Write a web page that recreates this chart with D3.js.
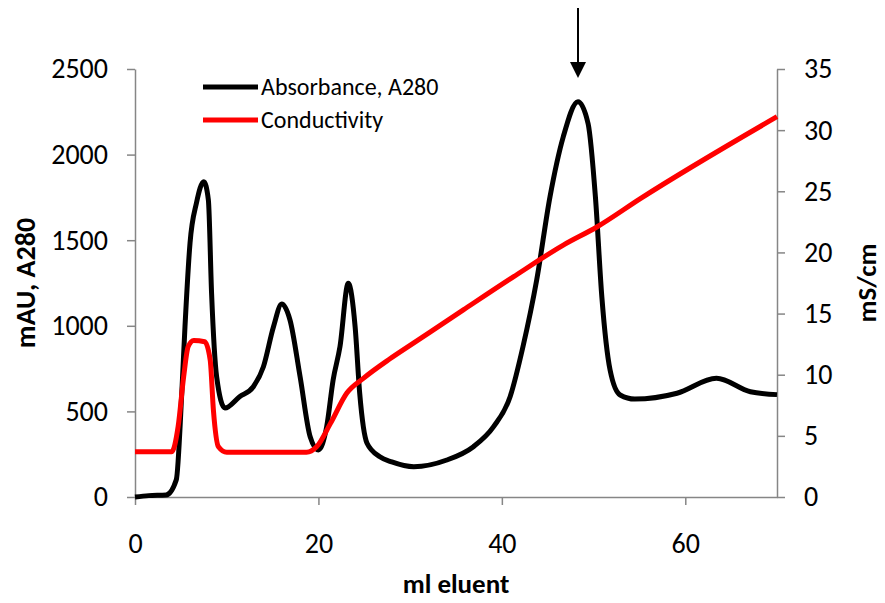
<!DOCTYPE html>
<html>
<head>
<meta charset="utf-8">
<script src="https://cdn.jsdelivr.net/npm/d3@7"></script>
<style>
  body { margin: 0; background: #fff; }
  text { font-family: Carlito, Calibri, Lato, sans-serif; fill: #000; }
</style>
</head>
<body>
<svg id="chart" width="885" height="603"></svg>
<script>
// elution volume (ml) and A280 (mAU)
const absVolume = [0, 1.5, 3.4, 4.5, 5.1, 5.45, 6.0, 6.7, 7.5, 8.0, 8.35, 8.9, 9.8, 11.4, 12.9, 14.0, 15.1, 16.0, 16.9, 18.0, 19.1, 20.0, 20.9, 21.6, 22.35, 23.25, 24.0, 24.5, 25.3, 26.7, 28.0, 30.4, 34.0, 36.9, 39.1, 40.9, 42.3, 43.8, 45.25, 46.7, 48.3, 49.4, 50.2, 50.9, 51.8, 52.9, 54.5, 59.1, 63.4, 67.1, 70];
const absorbance = [0, 8, 12, 100, 607, 995, 1484, 1717, 1842, 1735, 1190, 703, 520, 586, 644, 761, 995, 1127, 1034, 703, 352, 275, 411, 683, 878, 1248, 995, 606, 314, 235, 205, 177, 216, 294, 411, 586, 878, 1268, 1754, 2105, 2309, 2182, 1754, 1170, 742, 596, 572, 606, 693, 615, 598];

// elution volume (ml) and conductivity (mS/cm)
const condVolume = [0, 4.0, 4.7, 5.3, 5.8, 6.4, 7.6, 8.2, 8.55, 9.1, 10.0, 18.7, 19.8, 21.3, 23.1, 24.9, 27.8, 30.4, 35.8, 41.25, 46.7, 50.4, 55.1, 70];
const conductivity = [3.7, 3.7, 5.75, 9.8, 12.3, 12.8, 12.7, 11.2, 7.1, 4.1, 3.65, 3.65, 4.1, 6.0, 8.5, 9.7, 11.3, 12.6, 15.3, 18.0, 20.6, 22.1, 24.4, 31.1];

const absTicks = [0, 500, 1000, 1500, 2000, 2500];
const condTicks = [0, 5, 10, 15, 20, 25, 30, 35];
const volTicks = [0, 20, 40, 60];
const peakVolume = 48.3; // fraction marked by the arrow

const margin = {top: 69, right: 108, bottom: 106, left: 135};
const width = 885, height = 603;
const svg = d3.select("#chart");

const x = d3.scaleLinear().domain([0, 70]).range([margin.left, width - margin.right]);
const yL = d3.scaleLinear().domain([0, 2500]).range([height - margin.bottom, margin.top]);
const yR = d3.scaleLinear().domain([0, 35]).range([height - margin.bottom, margin.top]);

const axisColor = "#868686";
const fmt = d3.format("d");
const styleAxis = g => {
    g.select(".domain").attr("stroke", axisColor).attr("stroke-width", 1.5);
    g.selectAll(".tick line").attr("stroke", axisColor).attr("stroke-width", 1.5);
    g.selectAll(".tick text").attr("font-size", 28).attr("font-family", null);
};

svg.append("g")
    .attr("transform", `translate(0,${yL(0)})`)
    .call(d3.axisBottom(x).tickValues(volTicks).tickFormat(fmt).tickSize(8).tickSizeOuter(0).tickPadding(28))
    .call(styleAxis);

svg.append("g")
    .attr("transform", `translate(${x(0)},0)`)
    .call(d3.axisLeft(yL).tickValues(absTicks).tickFormat(fmt).tickSize(8).tickSizeOuter(0).tickPadding(19))
    .call(styleAxis);

svg.append("g")
    .attr("transform", `translate(${x(70)},0)`)
    .call(d3.axisRight(yR).tickValues(condTicks).tickFormat(fmt).tickSize(8).tickSizeOuter(0).tickPadding(19))
    .call(styleAxis);

// curves
const absLine = d3.line()
    .x((d, i) => x(absVolume[i]))
    .y(d => yL(d))
    .curve(d3.curveMonotoneX);
const condLine = d3.line()
    .x((d, i) => x(condVolume[i]))
    .y(d => yR(d))
    .curve(d3.curveMonotoneX);

svg.append("path")
    .attr("fill", "none")
    .attr("stroke", "#000")
    .attr("stroke-width", 5)
    .attr("stroke-linejoin", "round")
    .attr("d", absLine(absorbance));

svg.append("path")
    .attr("fill", "none")
    .attr("stroke", "#ff0000")
    .attr("stroke-width", 5)
    .attr("stroke-linejoin", "round")
    .attr("d", condLine(conductivity));

// axis titles
svg.append("text")
    .attr("x", (x(0) + x(70)) / 2)
    .attr("y", 593)
    .attr("text-anchor", "middle")
    .attr("font-size", 27)
    .attr("font-weight", "bold")
    .text("ml eluent");

svg.append("text")
    .attr("transform", `translate(35,${(yL(0) + yL(2500)) / 2}) rotate(-90)`)
    .attr("text-anchor", "middle")
    .attr("font-size", 28)
    .attr("font-weight", "bold")
    .text("mAU, A280");

svg.append("text")
    .attr("transform", `translate(876,${(yR(0) + yR(35)) / 2}) rotate(-90)`)
    .attr("text-anchor", "middle")
    .attr("font-size", 27)
    .attr("font-weight", "bold")
    .text("mS/cm");

// legend
const legend = [
    {name: "Absorbance, A280", color: "#000"},
    {name: "Conductivity", color: "#ff0000"}
];
const lg = svg.append("g").attr("transform", "translate(203,87)");
legend.forEach((d, i) => {
    const row = lg.append("g").attr("transform", `translate(0,${i * 33})`);
    row.append("line")
        .attr("x1", 0).attr("x2", 55)
        .attr("stroke", d.color).attr("stroke-width", 5);
    row.append("text")
        .attr("x", 58).attr("y", 8)
        .attr("font-size", 24)
        .text(d.name);
});

// arrow over the main peak
const ax = x(peakVolume);
svg.append("line")
    .attr("x1", ax).attr("x2", ax)
    .attr("y1", 8).attr("y2", 64)
    .attr("stroke", "#000").attr("stroke-width", 2);
svg.append("path")
    .attr("d", `M${ax - 8},62 L${ax + 8},62 L${ax},78 Z`)
    .attr("fill", "#000");
</script>
</body>
</html>
